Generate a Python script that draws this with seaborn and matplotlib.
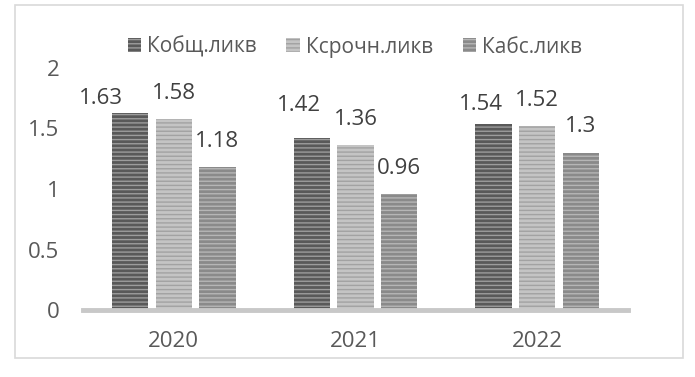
import pandas as pd
import matplotlib.pyplot as plt
import seaborn as sns
from matplotlib.patches import Rectangle

# data
years = ['2020', '2021', '2022']
series = ['Кобщ.ликв', 'Ксрочн.ликв', 'Кабс.ликв']
k_total = [1.63, 1.42, 1.54]
k_quick = [1.58, 1.36, 1.52]
k_abs = [1.18, 0.96, 1.3]

df = pd.DataFrame({
    'year': years * 3,
    'series': [series[0]] * 3 + [series[1]] * 3 + [series[2]] * 3,
    'value': k_total + k_quick + k_abs,
})

sns.set_theme(style='white')
plt.rcParams['font.family'] = ['Open Sans', 'DejaVu Sans']

face = ['#595959', '#c4c4c4', '#8a8a8a']
stripe = ['#9c9c9c', '#a2a2a2', '#b6b6b6']

fig = plt.figure(figsize=(6.95, 3.77), dpi=100)
ax = fig.add_axes([83 / 695, 67 / 377, 545 / 695, 242 / 377])

sns.barplot(data=df, x='year', y='value', hue='series', hue_order=series,
            palette=face, width=0.72, gap=0.17, ax=ax, legend=False)

for i, cont in enumerate(ax.containers):
    for p in cont.patches:
        p.set_hatch('----')
        p.set_edgecolor(stripe[i])
        p.set_linewidth(0)

# data labels (first series labels were shifted by hand in the original)
shifts = [[(-21, -8), (-9, 5), (-9, -5)], [(0, 0)] * 3, [(0, 0)] * 3]
for i, cont in enumerate(ax.containers):
    for j, p in enumerate(cont.patches):
        dx, dy = shifts[i][j]
        val = p.get_height()
        ax.annotate(f'{val:g}', (p.get_x() + p.get_width() / 2, val),
                    xytext=(dx, 11 + dy), textcoords='offset points',
                    ha='center', va='bottom', fontsize=16, color='#404040')

ax.set_ylim(0, 2)
ax.set_xlim(-0.5, 2.5)
ax.set_yticks([0, 0.5, 1, 1.5, 2])
ax.set_yticklabels(['0', '0.5', '1', '1.5', '2'])
ax.set_xlabel('')
ax.set_ylabel('')
ax.tick_params(axis='y', length=0, pad=17, labelsize=16, labelcolor='#595959')
ax.tick_params(axis='x', length=0, pad=15, labelsize=16, labelcolor='#595959')
for s in ['top', 'right', 'left']:
    ax.spines[s].set_visible(False)
ax.spines['bottom'].set_color('#c8c8c8')
ax.spines['bottom'].set_linewidth(3.5)

ax.legend(handles=ax.containers, labels=series, ncol=3, frameon=False,
          loc='center', bbox_to_anchor=(355 / 695, 1 - 47 / 377),
          bbox_transform=fig.transFigure, fontsize=15, labelcolor='#595959',
          handlelength=0.65, handleheight=0.65, handletextpad=0.3, columnspacing=1.4)

# chart border
fig.patches.append(Rectangle((15 / 695, 19 / 377), 668 / 695, 353 / 377,
                             transform=fig.transFigure, fill=False,
                             edgecolor='#d9d9d9', linewidth=1.2))

fig.savefig('out.png', dpi=100)
